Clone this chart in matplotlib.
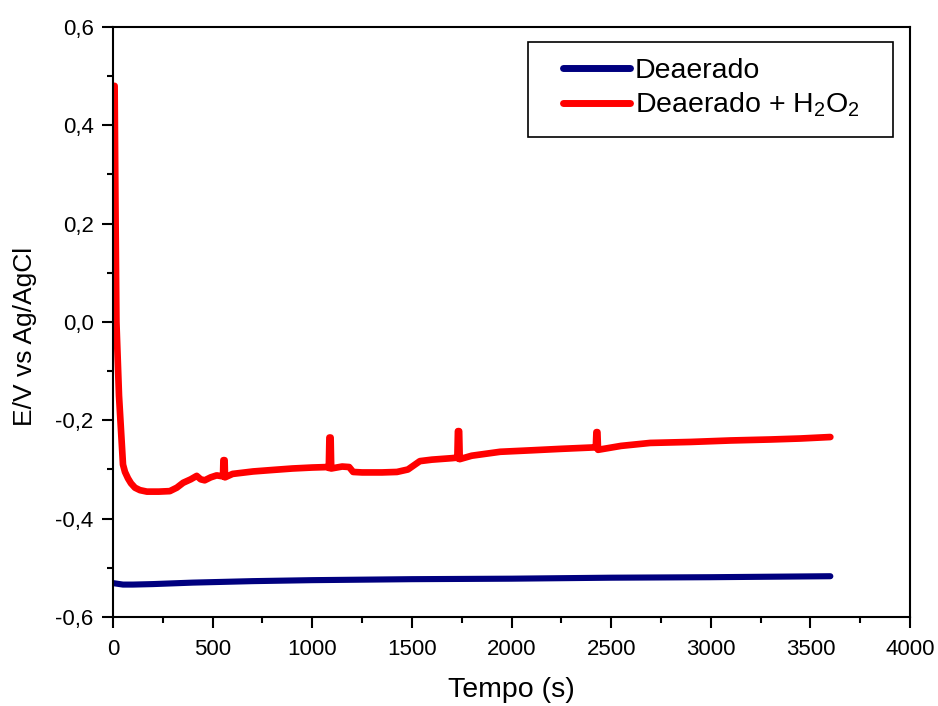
import matplotlib
matplotlib.use("Agg")
import matplotlib.pyplot as plt
from matplotlib.patches import Rectangle
from matplotlib.ticker import MultipleLocator, FuncFormatter

plt.rcParams["font.family"] = ["Liberation Sans", "DejaVu Sans"]
plt.rcParams["mathtext.fontset"] = "custom"
plt.rcParams["mathtext.rm"] = "Liberation Sans"
plt.rcParams["mathtext.it"] = "Liberation Sans:italic"
plt.rcParams["mathtext.default"] = "regular"

# Open-circuit potential, deaerated solution
t_deaer = [0, 50, 100, 200, 400, 700, 1000, 1500, 2000, 2500, 3000, 3600]
e_deaer = [-0.531, -0.534, -0.534, -0.533, -0.530, -0.527, -0.525, -0.523, -0.522, -0.520, -0.519, -0.517]

# Open-circuit potential, deaerated solution + H2O2
t_h2o2 = [8, 12, 17, 30, 50, 60, 75, 90, 110, 135, 170, 230, 285, 320, 352, 390, 420, 440, 460, 490, 520,
          552, 554, 560, 562, 600, 703, 800, 900, 1000, 1080,
          1083, 1086, 1092, 1095, 1150, 1185, 1205, 1250, 1350, 1425, 1480, 1540, 1600, 1700, 1725,
          1728, 1731, 1737, 1740, 1800, 1943, 2100, 2250, 2420,
          2423, 2426, 2431, 2434, 2550, 2696, 2900, 3100, 3300, 3450, 3600]
e_h2o2 = [0.480, 0.25, 0.00, -0.15, -0.290, -0.305, -0.318, -0.328, -0.337, -0.342, -0.345, -0.345, -0.344,
          -0.337, -0.327, -0.320, -0.313, -0.320, -0.322, -0.316, -0.312,
          -0.314, -0.281, -0.281, -0.316, -0.309, -0.304, -0.301, -0.298, -0.296, -0.295,
          -0.297, -0.235, -0.235, -0.298, -0.294, -0.295, -0.305, -0.306, -0.306, -0.305, -0.300, -0.283, -0.280, -0.277, -0.276,
          -0.277, -0.222, -0.222, -0.279, -0.272, -0.264, -0.261, -0.258, -0.255,
          -0.255, -0.224, -0.224, -0.260, -0.252, -0.246, -0.244, -0.241, -0.239, -0.237, -0.234]

x_ticks = [0, 500, 1000, 1500, 2000, 2500, 3000, 3500, 4000]
y_ticks = [-0.6, -0.4, -0.2, 0.0, 0.2, 0.4, 0.6]

fig = plt.figure(figsize=(9.38, 7.06), dpi=100)
ax = fig.add_axes([0.1205, 0.126, 0.8497, 0.836])

ax.plot(t_deaer, e_deaer, color="#00007f", lw=4.4, solid_capstyle="round",
        solid_joinstyle="round", label="Deaerado")
ax.plot(t_h2o2, e_h2o2, color="#ff0000", lw=4.8, solid_capstyle="round",
        solid_joinstyle="round", label="Deaerado + H$_2$O$_2$")

ax.set_xlim(0, 4000)
ax.set_ylim(-0.6, 0.6)
ax.set_xticks(x_ticks)
ax.set_yticks(y_ticks)
ax.xaxis.set_minor_locator(MultipleLocator(250))
ax.yaxis.set_minor_locator(MultipleLocator(0.1))
ax.yaxis.set_major_formatter(FuncFormatter(lambda v, p: f"{v:.1f}".replace(".", ",").replace("-0,0", "0,0")))

ax.tick_params(which="major", direction="out", length=8, width=1.5, labelsize=16,
               top=False, right=False)
ax.tick_params(axis="x", which="major", pad=8)
ax.tick_params(axis="y", which="major", pad=6)
ax.tick_params(which="minor", direction="out", length=4.5, width=1.5, top=False, right=False)
for s in ax.spines.values():
    s.set_linewidth(1.5)

ax.set_xlabel("Tempo (s)", fontsize=20.5, labelpad=12)
ax.set_ylabel("E/V vs Ag/AgCl", fontsize=19)
ax.yaxis.set_label_coords(-0.095, 0.476)

# legend box drawn as a plain rectangle, entries laid out inside it
ax.add_patch(Rectangle((0.5207, 0.8136), 0.458, 0.161, transform=ax.transAxes,
                       facecolor="white", edgecolor="black", lw=1.2, zorder=4))
leg = ax.legend(loc="upper left", bbox_to_anchor=(0.5646, 0.947), fontsize=20.5,
                frameon=False, handlelength=2.35, handletextpad=0.18,
                borderpad=0, labelspacing=0.24, borderaxespad=0)
leg.set_zorder(5)
for h in leg.get_lines():
    h.set_linewidth(5)

fig.savefig("out.png", dpi=100)
